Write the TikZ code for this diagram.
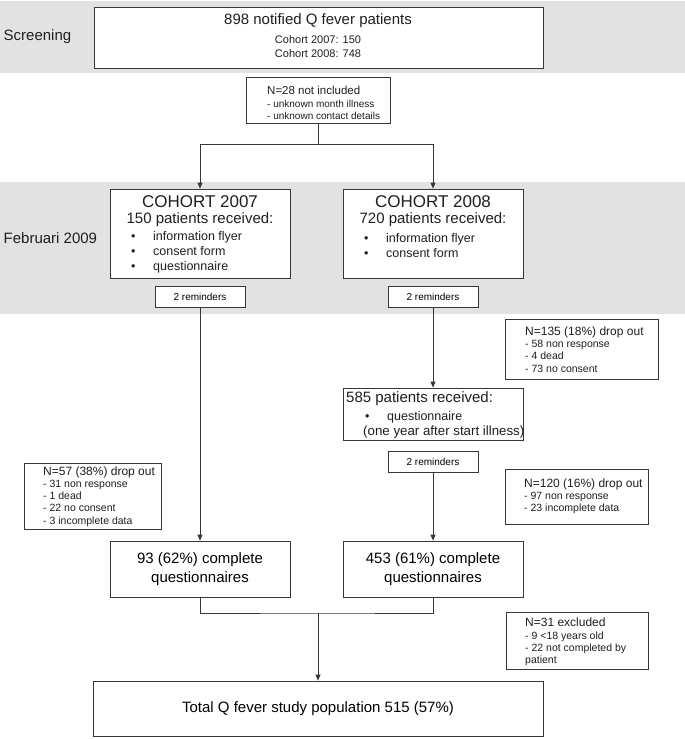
\documentclass[tikz,border=0pt]{standalone}
\usepackage{fontspec}
\setmainfont{Liberation Sans}
\usetikzlibrary{arrows.meta,calc}
\definecolor{bandgray}{RGB}{226,226,226}
\definecolor{edgegray}{RGB}{55,55,55}
\newcommand{\hdfont}{\fontsize{12}{12.2}\selectfont}
\begin{document}
\begin{tikzpicture}[x=1pt,y=-1pt,
  box/.style={draw=edgegray, line width=0.8pt, fill=white, inner sep=0pt},
  conn/.style={draw=edgegray, line width=0.8pt},
  arr/.style={conn, -{Triangle[length=6pt,width=5pt]}},
  txt/.style={inner sep=0pt, text=black!88},
  big/.style={font=\fontsize{15}{19}\selectfont},
  huge/.style={font=\fontsize{17}{19}\selectfont},
  mid/.style={font=\fontsize{12.5}{15}\selectfont},
  cohortfont/.style={font=\fontsize{11}{13}\selectfont},
  small/.style={font=\fontsize{10}{12.3}\selectfont, align=left},
  dropfont/.style={font=\fontsize{10.5}{12.2}\selectfont, align=left},
  remfont/.style={font=\fontsize{10}{12}\selectfont},
]
\useasboundingbox (0,0) rectangle (685,739);
% bands
\fill[bandgray] (0,1) rectangle (685,73);
\fill[bandgray] (0,182) rectangle (685,314);
\node[txt, big, anchor=west] (lscr) at (3.5,37) {Screening};
\node[txt, big, anchor=west] (lfeb) at (3.5,238) {Februari 2009};

% screening
\node[box, minimum width=449pt, minimum height=61pt] (scr) at (318.5,37.5) {};
\node[txt, big] (scr1) at (318,21) {898 notified Q fever patients};
\node[txt, cohortfont] (scr2) at (318,40) {Cohort 2007: 150};
\node[txt, cohortfont] (scr3) at (318,54) {Cohort 2008: 748};

% not included
\node[box, minimum width=144pt, minimum height=46pt] (n28) at (318,100) {};
\node[txt, small, anchor=west] (n28t) at (267,103) {{\fontsize{11.5}{12.3}\selectfont N=28 not included}\\- unknown month illness\\- unknown contact details};

% cohort boxes
\node[box, minimum width=180pt, minimum height=89pt] (c07) at (200,233.5) {};
\node[txt, huge] (c07h) at (200,202) {COHORT 2007};
\node[txt, big] (c07s) at (200,220) {150 patients received:};
\node[txt, mid, align=left, anchor=west] (c07l) at (131,252) {•\hspace{17.6pt}information flyer\\•\hspace{17.6pt}consent form\\•\hspace{17.6pt}questionnaire};

\node[box, minimum width=180pt, minimum height=89pt] (c08) at (433,233.5) {};
\node[txt, huge] (c08h) at (433,202) {COHORT 2008};
\node[txt, big] (c08s) at (433,220) {720 patients received:};
\node[txt, mid, align=left, anchor=west] (c08l) at (364,245.5) {•\hspace{17.6pt}information flyer\\•\hspace{17.6pt}consent form};

% reminders
\node[box, minimum width=90pt, minimum height=21pt, remfont] (r07) at (200,296.5) {2 reminders};
\node[box, minimum width=90pt, minimum height=21pt, remfont] (r08) at (433,296.5) {2 reminders};

% drop out 2008 first
\node[box, minimum width=153pt, minimum height=60pt] (n135) at (581.5,349) {};
\node[txt, dropfont, anchor=west] (n135t) at (525,349.5) {{\hdfont N=135 (18\%) drop out}\\- 58 non response\\- 4 dead\\- 73 no consent};

% 585 box
\node[box, minimum width=180pt, minimum height=52pt] (p585) at (433,414) {};
\node[txt, big, anchor=west] (p585a) at (346,399) {585 patients received:};
\node[txt, mid, anchor=west] (p585b) at (365,417) {•\hspace{17.6pt}questionnaire};
\node[txt, font=\fontsize{13.3}{15}\selectfont, anchor=west] (p585c) at (363,432) {(one year after start illness)};

\node[box, minimum width=90pt, minimum height=21pt, remfont] (r3) at (433,461.5) {2 reminders};

% drop outs
\node[box, minimum width=137pt, minimum height=66pt] (n57) at (92.5,496) {};
\node[txt, dropfont, anchor=west] (n57t) at (43,496.5) {{\hdfont N=57 (38\%) drop out}\\- 31 non response\\- 1 dead\\- 22 no consent\\- 3 incomplete data};

\node[box, minimum width=143pt, minimum height=55pt] (n120) at (576.5,496.5) {};
\node[txt, dropfont, anchor=west] (n120t) at (524,496.5) {{\hdfont N=120 (16\%) drop out}\\- 97 non response\\- 23 incomplete data};

% complete questionnaires
\node[box, minimum width=180pt, minimum height=56pt, big, align=center] (q07) at (200,569) {93 (62\%) complete\\questionnaires};
\node[box, minimum width=180pt, minimum height=56pt, big, align=center] (q08) at (433,569) {453 (61\%) complete\\questionnaires};

% excluded
\node[box, minimum width=142pt, minimum height=57pt] (n31) at (577,640.5) {};
\node[txt, dropfont, anchor=west] (n31t) at (525,642) {{\hdfont N=31 excluded}\\- 9 <18 years old\\- 22 not completed by\\patient};

% total
\node[box, minimum width=450pt, minimum height=55pt, big] (tot) at (318,708.5) {Total Q fever study population 515 (57\%)};

% connectors
\coordinate (split) at (318,144);
\draw[conn] (n28.south) -- (split);
\draw[arr] (split) -| (c07.north);
\draw[arr] (split) -| (c08.north);
\draw[arr] (r07.south) -- (q07.north);
\draw[arr] (r08.south) -- (p585.north);
\draw[arr] (r3.south) -- (q08.north);
\coordinate (join) at (318,613);
\draw[conn] (q07.south) |- (join) -| (q08.south);
\draw[arr] (join) -- (tot.north);
\end{tikzpicture}
\end{document}
